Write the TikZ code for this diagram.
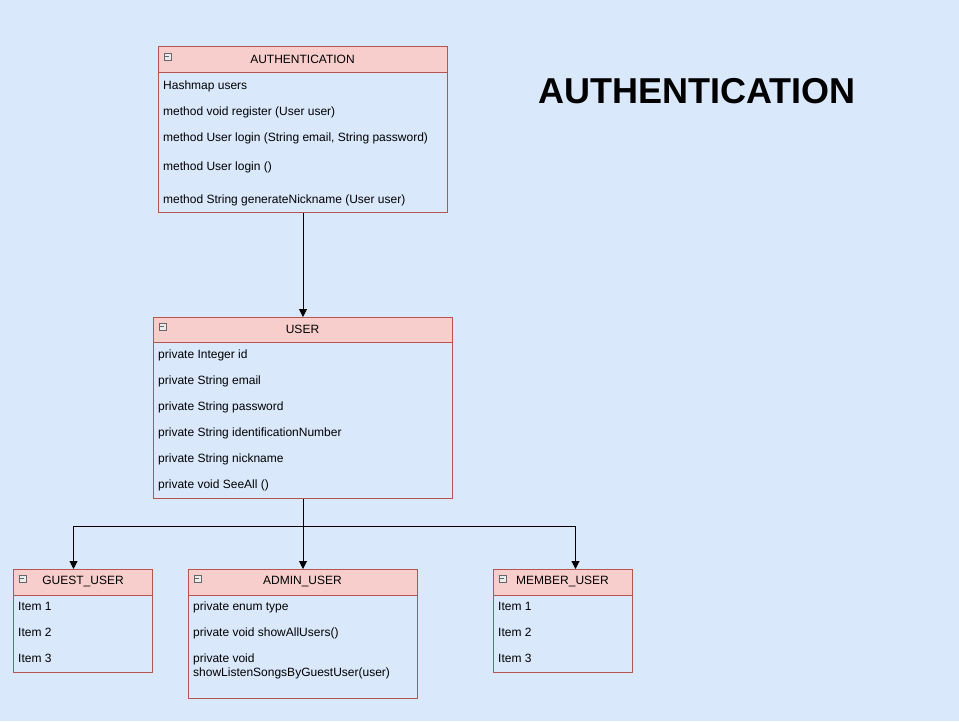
\documentclass[tikz,border=0pt]{standalone}
\usepackage{fontspec}
\setmainfont{Liberation Sans}
\usetikzlibrary{arrows.meta}
\definecolor{bgc}{HTML}{DAE8FC}
\definecolor{hdrfill}{HTML}{F8CECC}
\definecolor{strokec}{HTML}{B85450}
\tikzset{
  hdr/.style={draw=strokec, fill=hdrfill, line width=1pt, anchor=north west, inner sep=0pt, font=\fontsize{12}{14}\selectfont},
  bodybox/.style={draw=strokec, fill=bgc, line width=1pt, anchor=north west, inner sep=0pt},
  row/.style={anchor=mid west, inner sep=0pt, font=\fontsize{12}{14}\selectfont},
  bigtitle/.style={font=\fontsize{36}{40}\selectfont\bfseries},
  conn/.style={line width=1pt, -{Triangle[length=8pt,width=8pt]}},
  collapse/.style={draw=gray!80!black, fill=gray!15, line width=0.6pt, minimum size=7pt, inner sep=0pt, anchor=north west,
    path picture={\draw[line width=0.7pt] ([xshift=1.5pt]path picture bounding box.west) -- ([xshift=-1.5pt]path picture bounding box.east);}}
}
\begin{document}
\begin{tikzpicture}[x=1pt,y=-1pt]
\fill[bgc] (0,0) rectangle (959,721);
\useasboundingbox (0,0) rectangle (959,721);

% AUTHENTICATION class
\node[bodybox, minimum width=289pt, minimum height=140pt] (authb) at (158,72) {};
\node[hdr, minimum width=289pt, minimum height=26pt] (authh) at (158,46) {};
\node[font=\fontsize{12}{14}\selectfont, inner sep=0pt] (autht) at (302.5,59.5) {AUTHENTICATION};
\node[collapse] (authc) at (163.5,52.5) {};
\node[row] (a1) at (163,86.5) {Hashmap users};
\node[row] (a2) at (163,112.5) {method void register (User user)};
\node[row] (a3) at (163,138.5) {method User login (String email, String password)};
\node[row] (a4) at (163,167.5) {method User login ()};
\node[row] (a5) at (163,200.5) {method String generateNickname (User user)};

% Big title
\node[bigtitle, inner sep=0pt] (title) at (697,91) {AUTHENTICATION};

% USER class
\node[bodybox, minimum width=299pt, minimum height=156pt] (userb) at (153,342) {};
\node[hdr, minimum width=299pt, minimum height=25pt] (userh) at (153,317) {};
\node[font=\fontsize{12}{14}\selectfont, inner sep=0pt] (usert) at (302.5,329.5) {USER};
\node[collapse] (userc) at (158.5,322.5) {};
\node[row] (u1) at (158,355.5) {private Integer id};
\node[row] (u2) at (158,381.5) {private String email};
\node[row] (u3) at (158,407.5) {private String password};
\node[row] (u4) at (158,433.5) {private String identificationNumber};
\node[row] (u5) at (158,459.5) {private String nickname};
\node[row] (u6) at (158,485.5) {private void SeeAll ()};

% GUEST_USER
\node[bodybox, minimum width=139pt, minimum height=77pt] (guestb) at (13,595) {};
\node[hdr, minimum width=139pt, minimum height=26pt] (guesth) at (13,569) {};
\node[font=\fontsize{12}{14}\selectfont, inner sep=0pt] (guestt) at (83,581.5) {GUEST\_USER};
\node[collapse] (guestc) at (18.5,574.5) {};
\node[row] (g1) at (18,607.5) {Item 1};
\node[row] (g2) at (18,633.5) {Item 2};
\node[row] (g3) at (18,659.5) {Item 3};

% ADMIN_USER
\node[bodybox, minimum width=229pt, minimum height=103pt] (adminb) at (188,595) {};
\node[hdr, minimum width=229pt, minimum height=26pt] (adminh) at (188,569) {};
\node[font=\fontsize{12}{14}\selectfont, inner sep=0pt] (admint) at (302.5,581.5) {ADMIN\_USER};
\node[collapse] (adminc) at (193.5,574.5) {};
\node[row] (d1) at (193,607.5) {private enum type};
\node[row] (d2) at (193,633.5) {private void showAllUsers()};
\node[row] (d3) at (193,659.5) {private void};
\node[row] (d4) at (193,673.5) {showListenSongsByGuestUser(user)};

% MEMBER_USER
\node[bodybox, minimum width=139pt, minimum height=77pt] (memberb) at (493,595) {};
\node[hdr, minimum width=139pt, minimum height=26pt] (memberh) at (493,569) {};
\node[font=\fontsize{12}{14}\selectfont, inner sep=0pt] (membert) at (562.5,581.5) {MEMBER\_USER};
\node[collapse] (memberc) at (498.5,574.5) {};
\node[row] (m1) at (498,607.5) {Item 1};
\node[row] (m2) at (498,633.5) {Item 2};
\node[row] (m3) at (498,659.5) {Item 3};

% connectors
\coordinate (jn) at (303,526);
\draw[conn] (authb.south) -- (userh.north);
\draw[conn] (userb.south) -- (adminh.north);
\draw[conn] (userb.south) |- (jn) -| ([xshift=-9.5pt]guesth.north);
\draw[conn] (jn) -| ([xshift=12.5pt]memberh.north);
\end{tikzpicture}
\end{document}
